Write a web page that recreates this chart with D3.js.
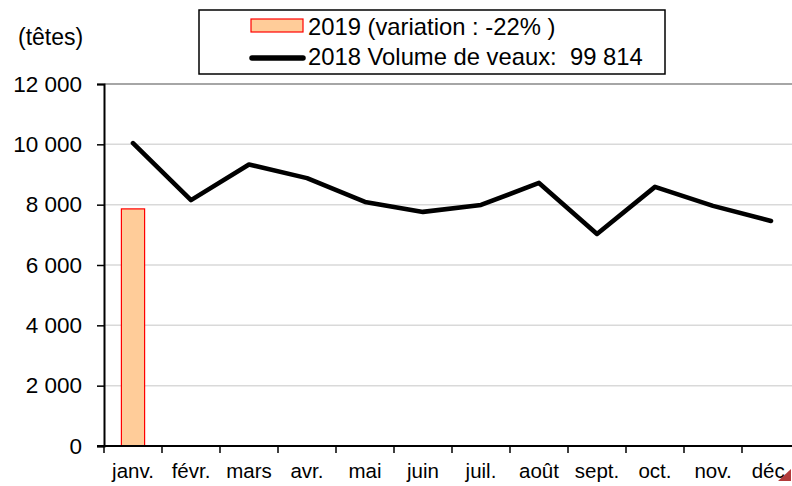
<!DOCTYPE html>
<html>
<head>
<meta charset="utf-8">
<script src="https://cdn.jsdelivr.net/npm/d3@7"></script>
<style>
  body { margin: 0; background: #fff; }
  text { font-family: "Liberation Sans", Arial, sans-serif; fill: #000; white-space: pre; }
</style>
</head>
<body>
<svg id="chart" width="792" height="486"></svg>
<script>
// months and values
var months = ['janv.', 'févr.', 'mars', 'avr.', 'mai', 'juin', 'juil.', 'août', 'sept.', 'oct.', 'nov.', 'déc.'];
var vol2018 = [10040, 8150, 9330, 8880, 8090, 7760, 7990, 8720, 7030, 8590, 7960, 7460];
var vol2019 = [7860];
var yTicks = [0, 2000, 4000, 6000, 8000, 10000, 12000];
var legendLabels = ['2019 (variation : -22% )', '2018 Volume de veaux:  99 814'];

var svg = d3.select('#chart');
var plotLeft = 104, plotRight = 800, plotTop = 84, plotBottom = 446;

var x = d3.scaleBand().domain(months).range([plotLeft, plotRight]);
var y = d3.scaleLinear().domain([0, 12000]).range([plotBottom, plotTop]);

var fmt = function(d) { return d3.format(',')(d).replace(/,/g, ' '); };

// gridlines
svg.selectAll('.grid')
   .data(yTicks.filter(d => d > 0))
   .enter().append('line')
   .attr('x1', plotLeft).attr('x2', 792)
   .attr('y1', d => y(d)).attr('y2', d => y(d))
   .attr('stroke', d => d == 12000 ? '#888' : '#d9d9d9')
   .attr('stroke-width', 1.5);

// bars 2019
svg.selectAll('.bar')
   .data(vol2019)
   .enter().append('rect')
   .attr('x', (d, i) => x(months[i]) + x.bandwidth() * 0.3)
   .attr('width', x.bandwidth() * 0.4)
   .attr('y', d => y(d))
   .attr('height', d => plotBottom - y(d))
   .attr('fill', '#ffcc99')
   .attr('stroke', '#ff0000')
   .attr('stroke-width', 1.2);

// line 2018
var line = d3.line()
   .x((d, i) => x(months[i]) + x.bandwidth() / 2)
   .y(d => y(d));

svg.append('path')
   .datum(vol2018)
   .attr('d', line)
   .attr('fill', 'none')
   .attr('stroke', '#000')
   .attr('stroke-width', 4.6)
   .attr('stroke-linejoin', 'round')
   .attr('stroke-linecap', 'round');

// y axis
var yAxis = d3.axisLeft(y).tickValues(yTicks).tickSize(7).tickPadding(15).tickFormat(fmt);
var gy = svg.append('g').attr('transform', 'translate(' + plotLeft + ',0)').call(yAxis);
gy.select('.domain').attr('stroke', '#000').attr('stroke-width', 2);
gy.selectAll('.tick line').attr('stroke', '#000').attr('stroke-width', 1.5);
gy.selectAll('.tick text').style('font-size', '22.5px').style('font-family', '"Liberation Sans", Arial, sans-serif');

// x axis: line with ticks at category boundaries
svg.append('line')
   .attr('x1', plotLeft - 7).attr('x2', 792)
   .attr('y1', plotBottom).attr('y2', plotBottom)
   .attr('stroke', '#000').attr('stroke-width', 2);

svg.selectAll('.xtick')
   .data(months)
   .enter().append('line')
   .attr('x1', d => x(d)).attr('x2', d => x(d))
   .attr('y1', plotBottom).attr('y2', plotBottom + 7)
   .attr('stroke', '#000').attr('stroke-width', 1.5);

svg.selectAll('.xlabel')
   .data(months)
   .enter().append('text')
   .attr('x', d => x(d) + x.bandwidth() / 2)
   .attr('y', 478)
   .attr('text-anchor', 'middle')
   .style('font-size', '20.5px')
   .text(d => d);

// unit label
svg.append('text')
   .attr('x', 18).attr('y', 45)
   .style('font-size', '23px')
   .text('(têtes)');

// legend
svg.append('rect')
   .attr('x', 199).attr('y', 10)
   .attr('width', 466).attr('height', 64)
   .attr('fill', '#fff')
   .attr('stroke', '#000')
   .attr('stroke-width', 1.5);

svg.append('rect')
   .attr('x', 251).attr('y', 19)
   .attr('width', 52).attr('height', 13)
   .attr('fill', '#ffcc99')
   .attr('stroke', '#ff0000')
   .attr('stroke-width', 1.2);

svg.append('line')
   .attr('x1', 252).attr('x2', 303)
   .attr('y1', 58).attr('y2', 58)
   .attr('stroke', '#000')
   .attr('stroke-width', 5.5)
   .attr('stroke-linecap', 'round');

svg.selectAll('.legtext')
   .data(legendLabels)
   .enter().append('text')
   .attr('x', 308)
   .attr('y', (d, i) => 35 + i * 30)
   .style('font-size', '23.8px')
   .text(d => d);

// small corner marker
svg.append('path')
   .attr('d', 'M778,481 L791,469 L791,481 Z')
   .attr('fill', '#b23a3a');
</script>
</body>
</html>
